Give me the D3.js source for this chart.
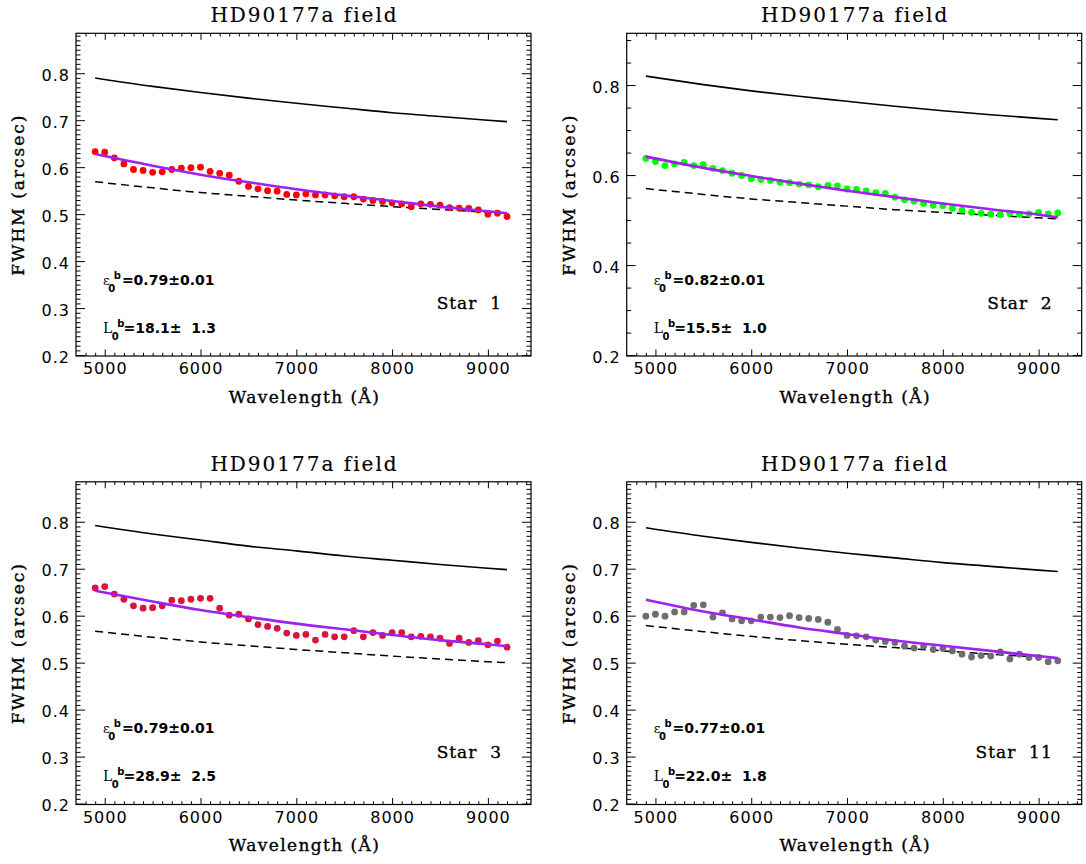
<!DOCTYPE html>
<html>
<head>
<meta charset="utf-8">
<script src="https://cdn.jsdelivr.net/npm/d3@7"></script>
<style>
  body { margin: 0; background: #fff; }
  svg { display: block; }
  text { fill: #000; }
</style>
</head>
<body>
<main></main>
<script>
// wavelengths of the measured points (Angstrom)
const wavelengths = [4900, 5000, 5100, 5200, 5300, 5400, 5500, 5600, 5700, 5800,
    5900, 6000, 6100, 6200, 6300, 6400, 6500, 6600, 6700, 6800,
    6900, 7000, 7100, 7200, 7300, 7400, 7500, 7600, 7700, 7800,
    7900, 8000, 8100, 8200, 8300, 8400, 8500, 8600, 8700, 8800,
    8900, 9000, 9100, 9200];

// measured FWHM (arcsec) for each star
const star1Fwhm = [0.633, 0.632, 0.620, 0.607, 0.595, 0.593, 0.589, 0.590, 0.595, 0.598,
    0.599, 0.600, 0.591, 0.587, 0.583, 0.570, 0.559, 0.554, 0.550, 0.549,
    0.542, 0.541, 0.543, 0.541, 0.541, 0.539, 0.537, 0.537, 0.532, 0.529,
    0.527, 0.524, 0.522, 0.516, 0.522, 0.521, 0.519, 0.514, 0.513, 0.512,
    0.509, 0.500, 0.502, 0.495];
const star2Fwhm = [0.637, 0.630, 0.621, 0.625, 0.628, 0.621, 0.623, 0.615, 0.610, 0.604,
    0.599, 0.592, 0.590, 0.588, 0.584, 0.583, 0.580, 0.578, 0.574, 0.577,
    0.576, 0.569, 0.568, 0.565, 0.561, 0.559, 0.551, 0.545, 0.542, 0.537,
    0.533, 0.532, 0.526, 0.522, 0.517, 0.515, 0.513, 0.512, 0.515, 0.513,
    0.514, 0.517, 0.514, 0.516];
const star3Fwhm = [0.659, 0.662, 0.646, 0.635, 0.621, 0.616, 0.617, 0.621, 0.633, 0.632,
    0.635, 0.637, 0.637, 0.616, 0.601, 0.603, 0.593, 0.581, 0.577, 0.573,
    0.563, 0.558, 0.560, 0.548, 0.560, 0.555, 0.555, 0.568, 0.555, 0.564,
    0.558, 0.564, 0.564, 0.555, 0.556, 0.555, 0.552, 0.541, 0.552, 0.543,
    0.547, 0.538, 0.546, 0.533];
const star11Fwhm = [0.599, 0.603, 0.599, 0.608, 0.608, 0.622, 0.623, 0.597, 0.606, 0.593,
    0.589, 0.589, 0.597, 0.597, 0.596, 0.600, 0.596, 0.594, 0.592, 0.586,
    0.571, 0.558, 0.557, 0.555, 0.548, 0.545, 0.543, 0.535, 0.531, 0.535,
    0.528, 0.530, 0.525, 0.518, 0.512, 0.515, 0.514, 0.523, 0.508, 0.518,
    0.511, 0.511, 0.502, 0.504];

// model curves, read at these wavelengths
const curveWave = [4900, 5500, 6000, 6500, 7000, 7500, 8000, 8500, 9000, 9200];
const seeing1 = [0.790, 0.772, 0.759, 0.747, 0.736, 0.726, 0.716, 0.708, 0.700, 0.697];
const seeing2 = [0.820, 0.801, 0.787, 0.775, 0.764, 0.753, 0.743, 0.734, 0.726, 0.723];
const seeing3 = [0.792, 0.774, 0.761, 0.748, 0.738, 0.727, 0.718, 0.709, 0.701, 0.698];
const seeing11 = [0.787, 0.769, 0.756, 0.744, 0.733, 0.723, 0.713, 0.705, 0.697, 0.694];
const fit1 = [0.628, 0.603, 0.584, 0.568, 0.553, 0.540, 0.528, 0.516, 0.506, 0.502];
const fit2 = [0.641, 0.616, 0.598, 0.581, 0.565, 0.551, 0.537, 0.524, 0.512, 0.506];
const fit3 = [0.653, 0.630, 0.612, 0.597, 0.583, 0.571, 0.559, 0.548, 0.539, 0.535];
const fit11 = [0.634, 0.609, 0.592, 0.575, 0.561, 0.547, 0.536, 0.525, 0.514, 0.510];
const dash1 = [0.569, 0.556, 0.546, 0.538, 0.530, 0.523, 0.516, 0.510, 0.504, 0.502];
const dash2 = [0.570, 0.557, 0.547, 0.539, 0.531, 0.523, 0.517, 0.511, 0.505, 0.503];
const dash3 = [0.567, 0.554, 0.544, 0.536, 0.528, 0.521, 0.514, 0.508, 0.502, 0.500];
const dash11 = [0.579, 0.566, 0.556, 0.547, 0.539, 0.532, 0.525, 0.518, 0.512, 0.510];

// fitted parameters
const starNames = ['Star  1', 'Star  2', 'Star  3', 'Star  11'];
const epsLabels = ['=0.79\u00b10.01', '=0.82\u00b10.01', '=0.79\u00b10.01', '=0.77\u00b10.01'];
const l0Labels = ['=18.1\u00b1  1.3', '=15.5\u00b1  1.0', '=28.9\u00b1  2.5', '=22.0\u00b1  1.8'];

const xTicks = [5000, 6000, 7000, 8000, 9000];
const yTicksFine = [0.2, 0.3, 0.4, 0.5, 0.6, 0.7, 0.8];
const yTicksCoarse = [0.2, 0.4, 0.6, 0.8];

const width = 1086, height = 864;
const svg = d3.select('main').append('svg')
    .attr('width', width)
    .attr('height', height);

const boxW = 455, boxH = 322.7;

const panels = [
    { left: 76, top: 33.3, y: [0.198, 0.885], ticks: yTicksFine, minor: 0.01,
      pts: star1Fwhm, seeing: seeing1, fit: fit1, dash: dash1, color: '#ff0000' },
    { left: 626.7, top: 33.3, y: [0.198, 0.915], ticks: yTicksCoarse, minor: 0.05,
      pts: star2Fwhm, seeing: seeing2, fit: fit2, dash: dash2, color: '#00ff00' },
    { left: 76, top: 481.8, y: [0.198, 0.885], ticks: yTicksFine, minor: 0.01,
      pts: star3Fwhm, seeing: seeing3, fit: fit3, dash: dash3, color: '#dc143c' },
    { left: 626.7, top: 481.8, y: [0.198, 0.885], ticks: yTicksFine, minor: 0.01,
      pts: star11Fwhm, seeing: seeing11, fit: fit11, dash: dash11, color: '#6e6e6e' }
];

const heavy = (sel, w) => sel.style('stroke', '#000').style('stroke-width', (w || 0.35) + 'px');

panels.forEach((p, i) => {
    const g = svg.append('g').attr('transform', `translate(${p.left},${p.top})`);
    const x = d3.scaleLinear().domain([4700, 9450]).range([0, boxW]);
    const y = d3.scaleLinear().domain(p.y).range([boxH, 0]);

    const xMinor = d3.range(4800, 9450, 100).filter(v => v % 1000 !== 0);
    const yMinor = d3.range(Math.ceil(p.y[0] / p.minor) * p.minor, p.y[1], p.minor)
        .filter(v => !p.ticks.some(t => Math.abs(t - v) < 1e-6));

    // bottom axis with labels
    const xAx = g.append('g').attr('transform', `translate(0,${boxH})`)
        .call(d3.axisBottom(x).tickValues(xTicks).tickSize(-6.5).tickFormat(d3.format('d')));
    xAx.selectAll('text').attr('y', 18).attr('dy', null)
        .style('font-family', 'DejaVu Sans').style('font-size', '16px')
        .style('letter-spacing', '1px');
    g.append('g').attr('transform', `translate(0,${boxH})`)
        .call(d3.axisBottom(x).tickValues(xMinor).tickSize(-3.2).tickFormat(''));
    g.append('g').call(d3.axisTop(x).tickValues(xTicks).tickSize(-6.5).tickFormat(''));
    g.append('g').call(d3.axisTop(x).tickValues(xMinor).tickSize(-3.2).tickFormat(''));

    // left / right axes
    const yAx = g.append('g')
        .call(d3.axisLeft(y).tickValues(p.ticks).tickSize(-9).tickFormat(d3.format('.1f')));
    yAx.selectAll('text').attr('x', -6).attr('dy', '0.45em')
        .style('font-family', 'DejaVu Sans').style('font-size', '16px')
        .style('letter-spacing', '1px');
    g.append('g').call(d3.axisLeft(y).tickValues(yMinor).tickSize(-4.5).tickFormat(''));
    g.append('g').attr('transform', `translate(${boxW},0)`)
        .call(d3.axisRight(y).tickValues(p.ticks).tickSize(-9).tickFormat(''));
    g.append('g').attr('transform', `translate(${boxW},0)`)
        .call(d3.axisRight(y).tickValues(yMinor).tickSize(-4.5).tickFormat(''));

    g.selectAll('.domain').remove();
    g.selectAll('.tick line').attr('stroke', '#000').attr('stroke-width', 1);

    g.append('rect')
        .attr('width', boxW).attr('height', boxH)
        .attr('fill', 'none').attr('stroke', '#000').attr('stroke-width', 1.2);

    // curves
    const line = d3.line()
        .x((d, k) => x(curveWave[k]))
        .y(d => y(d))
        .curve(d3.curveMonotoneX);

    g.append('path').datum(p.seeing)
        .attr('fill', 'none').attr('stroke', '#000').attr('stroke-width', 1.6)
        .attr('d', line);
    g.append('path').datum(p.dash)
        .attr('fill', 'none').attr('stroke', '#000').attr('stroke-width', 1.5)
        .attr('stroke-dasharray', '8,5')
        .attr('d', line);

    g.selectAll('circle.pt')
        .data(p.pts)
        .enter()
        .append('circle')
        .attr('class', 'pt')
        .attr('cx', (d, k) => x(wavelengths[k]))
        .attr('cy', d => y(d))
        .attr('r', 3.4)
        .attr('fill', p.color);

    g.append('path').datum(p.fit)
        .attr('fill', 'none').attr('stroke', '#a020f0').attr('stroke-width', 2.6)
        .attr('d', line);

    // titles
    g.append('text')
        .attr('x', boxW / 2 + 1).attr('y', -11)
        .attr('text-anchor', 'middle')
        .style('font-family', 'DejaVu Serif').style('font-size', '20px')
        .style('letter-spacing', '2px')
        .call(heavy, 0.15)
        .text('HD90177a field');

    g.append('text')
        .attr('x', boxW / 2 + 1).attr('y', boxH + 47)
        .attr('text-anchor', 'middle')
        .style('font-family', 'DejaVu Serif').style('font-size', '17px')
        .style('letter-spacing', '1.4px')
        .call(heavy)
        .text('Wavelength (\u00c5)');

    g.append('text')
        .attr('transform', `translate(${-52},${boxH / 2}) rotate(-90)`)
        .attr('text-anchor', 'middle')
        .style('font-family', 'DejaVu Serif').style('font-size', '17px')
        .style('letter-spacing', '2px')
        .call(heavy)
        .text('FWHM (arcsec)');

    // fit annotations: symbol, subscript 0, superscript b, value
    const ann = (sym, base, label) => {
        const isL = sym === 'L';
        const t = g.append('text').attr('x', 27).attr('y', base)
            .style('white-space', 'pre');
        t.append('tspan')
            .style('font-family', 'DejaVu Serif')
            .style('font-size', isL ? '14px' : '13px')
            .text(sym);
        t.append('tspan').attr('dx', isL ? -0.5 : -1.5).attr('dy', 7)
            .style('font-family', 'DejaVu Sans').style('font-size', '10px')
            .style('font-weight', 'bold').text('0');
        t.append('tspan').attr('dx', -1.5).attr('dy', -13)
            .style('font-family', 'DejaVu Sans').style('font-size', '10px')
            .style('font-weight', 'bold').text('b');
        t.append('tspan').attr('dx', isL ? -1 : 1).attr('dy', 6)
            .style('font-family', 'DejaVu Sans').style('font-size', '14px')
            .style('font-weight', 'bold')
            .text(label);
    };
    ann('\u03b5', 251.7, epsLabels[i]);
    ann('L', 299.7, l0Labels[i]);

    g.append('text')
        .attr('x', boxW - 29).attr('y', 276)
        .attr('text-anchor', 'end')
        .style('font-family', 'DejaVu Serif').style('font-size', '17px')
        .style('letter-spacing', '1px')
        .style('white-space', 'pre')
        .call(heavy)
        .text(starNames[i]);
});
</script>
</body>
</html>
